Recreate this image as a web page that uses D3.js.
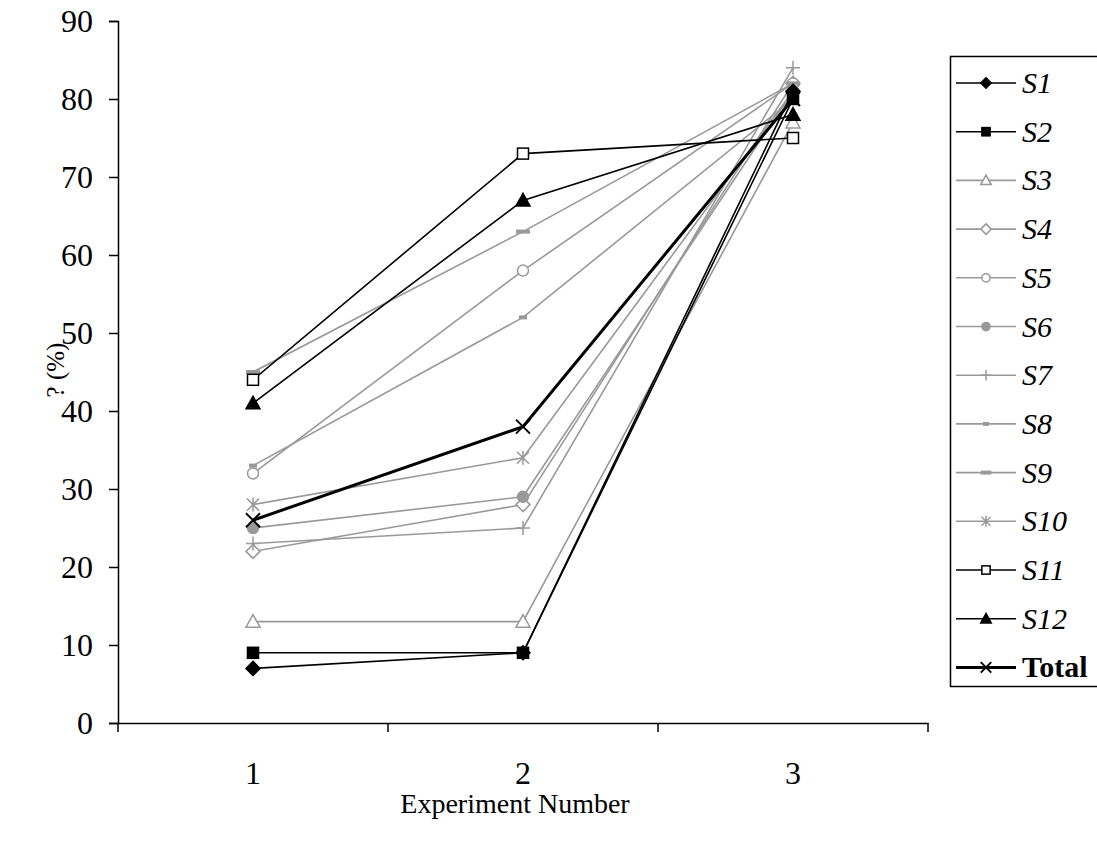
<!DOCTYPE html>
<html>
<head>
<meta charset="utf-8">
<script src="https://cdn.jsdelivr.net/npm/d3@7"></script>
<style>
  body { margin: 0; background: #fff; }
  text { font-family: "Liberation Serif", "Times New Roman", serif; }
</style>
</head>
<body>
<script>
var w = 1097;
var h = 849;

// data
var experiments = ["1", "2", "3"];
var seriesNames = ["S1", "S2", "S3", "S4", "S5", "S6", "S7", "S8", "S9", "S10", "S11", "S12", "Total"];
var s1 = [7, 9, 81];
var s2 = [9, 9, 80];
var s3 = [13, 13, 77];
var s4 = [22, 28, 82];
var s5 = [32, 58, 82];
var s6 = [25, 29, 81];
var s7 = [23, 25, 84];
var s8 = [33, 52, 80];
var s9 = [45, 63, 82];
var s10 = [28, 34, 81];
var s11 = [44, 73, 75];
var s12 = [41, 67, 78];
var total = [26, 38, 80];
var yTicks = [0, 10, 20, 30, 40, 50, 60, 70, 80, 90];

var seriesValues = [s1, s2, s3, s4, s5, s6, s7, s8, s9, s10, s11, s12, total];

// look of each series
var black = "#000", grey = "#999";
var styles = [
    {color: black, marker: "diamond", fill: true},
    {color: black, marker: "square", fill: true},
    {color: grey, marker: "triangle", fill: false},
    {color: grey, marker: "diamond", fill: false},
    {color: grey, marker: "circle", fill: false},
    {color: grey, marker: "circle", fill: true},
    {color: grey, marker: "plus", fill: false},
    {color: grey, marker: "dashShort", fill: false},
    {color: grey, marker: "dashLong", fill: false},
    {color: grey, marker: "star", fill: false},
    {color: black, marker: "square", fill: false},
    {color: black, marker: "triangle", fill: true},
    {color: black, marker: "cross", fill: false, width: 3}
];

var svg = d3.select("body")
            .append("svg")
            .attr("width", w)
            .attr("height", h);

var x = d3.scaleBand()
    .domain(experiments)
    .range([118, 928])
    .paddingInner(0).paddingOuter(0);

var y = d3.scaleLinear()
    .domain([0, 90])
    .range([723, 21]);

// AXES =====================================

var yAxis = svg.append("g")
    .attr("transform", "translate(118,0)")
    .call(d3.axisLeft(y).tickValues(yTicks).tickSizeOuter(0).tickSize(9).tickPadding(16));
yAxis.select(".domain").attr("stroke-width", 1.5);
yAxis.selectAll(".tick line").attr("stroke-width", 1.5);
yAxis.selectAll("text").attr("font-size", "32px").attr("font-family", "Liberation Serif").attr("fill", "#000");

var xAxis = svg.append("g")
    .attr("transform", "translate(0,723)")
    .call(d3.axisBottom(x).tickSize(0).tickPadding(38));
xAxis.select(".domain").attr("stroke-width", 1.5);
xAxis.selectAll("text").attr("font-size", "32px").attr("font-family", "Liberation Serif").attr("fill", "#000");

// boundary ticks between categories
var bounds = experiments.map(function(d) { return x(d); }).concat([x.range()[1]]);
xAxis.selectAll(".bound")
    .data(bounds)
    .enter().append("line")
        .attr("x1", function(d) { return d; })
        .attr("x2", function(d) { return d; })
        .attr("y1", 0)
        .attr("y2", 9)
        .attr("stroke", "#000")
        .attr("stroke-width", 1.5);

svg.append("text")
    .attr("x", 515)
    .attr("y", 813)
    .attr("text-anchor", "middle")
    .attr("font-size", "28px")
    .text("Experiment Number");

svg.append("text")
    .attr("transform", "translate(64,370) rotate(-90)")
    .attr("text-anchor", "middle")
    .attr("font-size", "25px")
    .text("? (%)");

// MARKERS =====================================

function drawMarker(g, st, cx, cy, k) {
    var sw = 1.5;
    k = k || 1;
    var fill = st.fill ? st.color : "#fff";
    if (st.marker === "diamond") {
        var d = 7 * k;
        g.append("path").attr("d", "M" + cx + "," + (cy - d) + "L" + (cx + d) + "," + cy + "L" + cx + "," + (cy + d) + "L" + (cx - d) + "," + cy + "Z")
            .attr("fill", fill).attr("stroke", st.color).attr("stroke-width", sw);
    } else if (st.marker === "square") {
        var s = 11 * k;
        g.append("rect").attr("x", cx - s / 2).attr("y", cy - s / 2).attr("width", s).attr("height", s)
            .attr("fill", fill).attr("stroke", st.color).attr("stroke-width", sw);
    } else if (st.marker === "triangle") {
        var t = 7 * k;
        g.append("path").attr("d", "M" + cx + "," + (cy - t) + "L" + (cx + t) + "," + (cy + t * 0.8) + "L" + (cx - t) + "," + (cy + t * 0.8) + "Z")
            .attr("fill", fill).attr("stroke", st.color).attr("stroke-width", sw);
    } else if (st.marker === "circle") {
        g.append("circle").attr("cx", cx).attr("cy", cy).attr("r", 5.5 * k)
            .attr("fill", fill).attr("stroke", st.color).attr("stroke-width", sw);
    } else if (st.marker === "plus") {
        var p = 7 * k;
        g.append("path").attr("d", "M" + (cx - p) + "," + cy + "H" + (cx + p) + "M" + cx + "," + (cy - p) + "V" + (cy + p))
            .attr("stroke", st.color).attr("stroke-width", sw).attr("fill", "none");
    } else if (st.marker === "dashShort") {
        g.append("rect").attr("x", cx - 4 * k).attr("y", cy - 2).attr("width", 8 * k).attr("height", 4).attr("fill", st.color);
    } else if (st.marker === "dashLong") {
        g.append("rect").attr("x", cx - 7 * k).attr("y", cy - 2).attr("width", 14 * k).attr("height", 4).attr("fill", st.color);
    } else if (st.marker === "star") {
        var a = 6 * k;
        g.append("path").attr("d", "M" + (cx - a) + "," + (cy - a) + "L" + (cx + a) + "," + (cy + a) +
                "M" + (cx - a) + "," + (cy + a) + "L" + (cx + a) + "," + (cy - a) +
                "M" + cx + "," + (cy - a - 1) + "V" + (cy + a + 1))
            .attr("stroke", st.color).attr("stroke-width", sw).attr("fill", "none");
    } else if (st.marker === "cross") {
        var c = 7 * k;
        g.append("path").attr("d", "M" + (cx - c) + "," + (cy - c) + "L" + (cx + c) + "," + (cy + c) +
                "M" + (cx - c) + "," + (cy + c) + "L" + (cx + c) + "," + (cy - c))
            .attr("stroke", st.color).attr("stroke-width", 2).attr("fill", "none");
    }
}

// LINES =====================================

var line = d3.line()
    .x(function(d, i) { return x(experiments[i]) + x.bandwidth() / 2; })
    .y(function(d) { return y(d); });

var order = [2, 3, 4, 5, 6, 7, 8, 9, 0, 1, 10, 11, 12];
order.forEach(function(k) {
    var st = styles[k];
    var g = svg.append("g");
    g.append("path")
        .attr("d", line(seriesValues[k]))
        .attr("fill", "none")
        .attr("stroke", st.color)
        .attr("stroke-width", st.width || 1.6);
    seriesValues[k].forEach(function(v, i) {
        drawMarker(g, st, x(experiments[i]) + x.bandwidth() / 2, y(v));
    });
});

// LEGEND =====================================

var legend = svg.append("g");
legend.append("rect")
    .attr("x", 950.5).attr("y", 56.5)
    .attr("width", 160).attr("height", 630)
    .attr("fill", "#fff").attr("stroke", "#000").attr("stroke-width", 1.5);

seriesNames.forEach(function(name, i) {
    var st = styles[i];
    var ly = 83 + i * 48.7;
    var g = legend.append("g");
    g.append("line")
        .attr("x1", 956).attr("x2", 1016)
        .attr("y1", ly).attr("y2", ly)
        .attr("stroke", st.color)
        .attr("stroke-width", st.width || 1.6);
    drawMarker(g, st, 986, ly, 0.75);
    g.append("text")
        .attr("x", 1022)
        .attr("y", ly + 10)
        .attr("font-size", "30px")
        .attr("font-style", name === "Total" ? "normal" : "italic")
        .attr("font-weight", name === "Total" ? "bold" : "normal")
        .text(name);
});
</script>
</body>
</html>
